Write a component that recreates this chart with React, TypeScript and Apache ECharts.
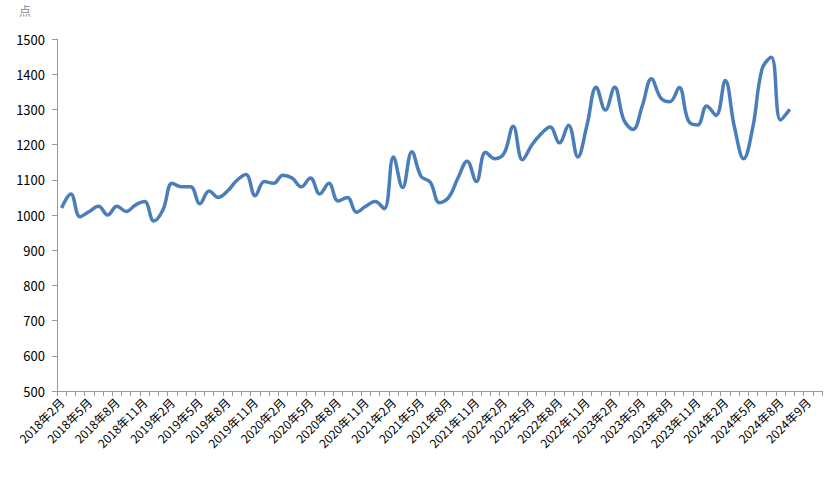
import React, { useEffect, useRef } from "react";
import * as echarts from "echarts";

const tickLabels = [
  "2018年2月", "2018年5月", "2018年8月", "2018年11月",
  "2019年2月", "2019年5月", "2019年8月", "2019年11月",
  "2020年2月", "2020年5月", "2020年8月", "2020年11月",
  "2021年2月", "2021年5月", "2021年8月", "2021年11月",
  "2022年2月", "2022年5月", "2022年8月", "2022年11月",
  "2023年2月", "2023年5月", "2023年8月", "2023年11月",
  "2024年2月", "2024年5月", "2024年8月", "2024年9月",
];

const values = [
  1020, 1060, 995, 1010, 1025, 1000, 1025, 1010, 1028, 1038,
  983, 1015, 1090, 1080, 1080, 1032, 1068, 1050, 1068, 1098,
  1115, 1055, 1095, 1090, 1113, 1105, 1080, 1105, 1060, 1090,
  1040, 1050, 1008, 1025, 1038, 1018, 1165, 1078, 1180, 1110,
  1093, 1035, 1050, 1105, 1153, 1095, 1178, 1160, 1175, 1252,
  1157, 1198, 1230, 1250, 1205, 1255, 1165, 1255, 1363, 1298,
  1363, 1270, 1243, 1310, 1387, 1333, 1322, 1362, 1268, 1256,
  1310, 1283, 1382, 1250, 1160, 1250, 1415, 1448, 1270, 1300,
];

const categoryCount = 83;
const categories: string[] = [];
for (let i = 0; i < categoryCount; i++) {
  if (i < values.length) {
    const m = 1 + i; // months after 2018年1月
    const y = 2018 + Math.floor(m / 12);
    const mo = (m % 12) + 1;
    categories.push(`${y}年${mo}月`);
  } else {
    categories.push("");
  }
}

export default function App() {
  const ref = useRef<HTMLDivElement>(null);
  useEffect(() => {
    document.body.style.margin = "0";
    const chart = echarts.init(ref.current!, null, { renderer: "svg" });
    chart.setOption({
      animation: false,
      backgroundColor: "#ffffff",
      textStyle: { fontFamily: "'Noto Sans CJK SC', 'Noto Sans', sans-serif" },
      graphic: [
        {
          type: "text",
          left: 19,
          top: 4,
          style: { text: "点", fill: "#888888", fontSize: 12, fontFamily: "'Noto Sans CJK SC', sans-serif" },
        },
      ],
      grid: { left: 57, right: 8, top: 39, bottom: 90, containLabel: false },
      xAxis: {
        type: "category",
        data: categories,
        boundaryGap: true,
        axisLine: { lineStyle: { color: "#999999", width: 1 } },
        axisTick: { show: true, interval: 0, length: 5, lineStyle: { color: "#999999" } },
        axisLabel: {
          interval: (index: number) => index % 3 === 0,
          rotate: 45,
          margin: 9,
          color: "#000000",
          fontSize: 12,
          formatter: (_v: string, index: number) => tickLabels[index / 3] ?? "",
        },
        splitLine: { show: false },
      },
      yAxis: {
        type: "value",
        min: 500,
        max: 1500,
        interval: 100,
        axisLine: { show: true, lineStyle: { color: "#999999", width: 1 } },
        axisTick: { show: true, length: 5, lineStyle: { color: "#999999" } },
        axisLabel: {
          color: "#000000",
          fontSize: 13,
          margin: 12,
          formatter: (v: number) => String(v),
        },
        splitLine: { show: false },
      },
      series: [
        {
          type: "line",
          data: values,
          smooth: 0.4,
          symbol: "none",
          lineStyle: { color: "#4a7ebb", width: 3.5 },
        },
      ],
    });
    return () => chart.dispose();
  }, []);
  return <div ref={ref} style={{ width: 830, height: 481 }} />;
}
